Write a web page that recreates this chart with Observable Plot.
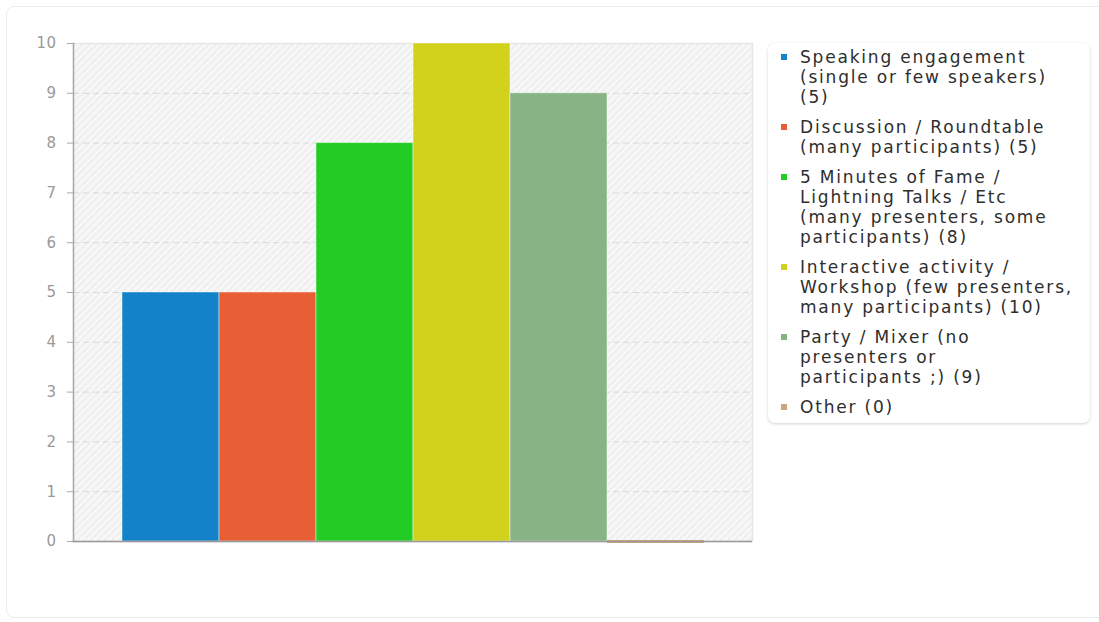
<!DOCTYPE html>
<html>
<head>
<meta charset="utf-8">
<script src="https://cdn.jsdelivr.net/npm/d3@7"></script>
<script src="https://cdn.jsdelivr.net/npm/@observablehq/plot@0.6"></script>
<style>
  html, body { margin: 0; padding: 0; background: #fff; }
  body { width: 1099px; height: 622px; position: relative; overflow: hidden; font-family: "DejaVu Sans", sans-serif; }
  #card { position: absolute; left: 6px; top: 6px; width: 1110px; height: 612px; border: 1.5px solid #ececec; border-radius: 8px; box-sizing: border-box; }
  #chart { position: absolute; left: 0; top: 0; }
  #chart svg text { font-size: 15px !important; letter-spacing: 0.5px; font-family: "DejaVu Sans", sans-serif; }
  #legend { position: absolute; left: 768px; top: 43px; width: 322px; height: 380px; box-sizing: border-box;
            background: #fff; border-radius: 7px; box-shadow: 0 1px 3px rgba(0,0,0,0.18); padding: 4px 0 0 13px; }
  .item { display: flex; align-items: flex-start; margin-bottom: 10px; }
  .sw { width: 6px; height: 6px; margin-top: 7px; margin-right: 13px; flex: none; }
  .lab { font-size: 17px; line-height: 20px; color: #2e2e2e; letter-spacing: 1.8px; white-space: nowrap; }
</style>
</head>
<body>
<div id="card"></div>
<div id="chart"></div>
<div id="legend"></div>
<script>
const categories = [
  "Speaking engagement (single or few speakers)",
  "Discussion / Roundtable (many participants)",
  "5 Minutes of Fame / Lightning Talks / Etc (many presenters, some participants)",
  "Interactive activity / Workshop (few presenters, many participants)",
  "Party / Mixer (no presenters or participants ;)",
  "Other"
];
const values = [5, 5, 8, 10, 9, 0];
const colors = ["#1482c8", "#e85e35", "#22cc22", "#d2d21c", "#88b384", "#c9a67c"];
const yTicks = [0, 1, 2, 3, 4, 5, 6, 7, 8, 9, 10];
// legend labels as wrapped in the reference
const legendLines = [
  ["Speaking engagement", "(single or few speakers)", "(5)"],
  ["Discussion / Roundtable", "(many participants) (5)"],
  ["5 Minutes of Fame /", "Lightning Talks / Etc", "(many presenters, some", "participants) (8)"],
  ["Interactive activity /", "Workshop (few presenters,", "many participants) (10)"],
  ["Party / Mixer (no", "presenters or", "participants ;) (9)"],
  ["Other (0)"]
];

const data = categories.map((c, i) => ({category: c, value: values[i]}));

const plot = Plot.plot({
  width: 760,
  height: 580,
  marginTop: 43,
  marginBottom: 39,
  marginLeft: 73,
  marginRight: 8,
  style: {fontFamily: "DejaVu Sans, sans-serif", fontSize: "15px", color: "#999", background: "transparent"},
  x: {type: "band", domain: categories, range: [122, 704], padding: 0, axis: null},
  y: {domain: [0, 10], ticks: yTicks, tickSize: 6, tickPadding: 11, label: null},
  color: {domain: categories, range: colors},
  marks: [
    Plot.frame({fill: "url(#hatch)", stroke: "#e6e6e6", strokeWidth: 1.5}),
    Plot.gridY(yTicks.filter(t => t > 0 && t < 10), {stroke: "#d8d8d8", strokeOpacity: 1, strokeDasharray: "6,4"}),
    Plot.barY(data, {x: "category", y: "value", fill: "category", stroke: "#ffffff", strokeOpacity: 0.45, strokeWidth: 1}),
    Plot.tickY(data.filter(d => d.value === 0), {x: "category", y: "value", stroke: "category", strokeWidth: 3}),
    Plot.frame({anchor: "left", stroke: "#aaa", strokeWidth: 1.5}),
    Plot.ruleY([0], {stroke: "#999", strokeWidth: 1.5}),
    Plot.axisY({ticks: yTicks, tickSize: 6, tickPadding: 11, stroke: "#aaa", fill: "#999", label: null})
  ]
});

// hatch pattern definition ("/" diagonal lines)
const ns = "http://www.w3.org/2000/svg";
const defs = document.createElementNS(ns, "defs");
defs.innerHTML = `<pattern id="hatch" patternUnits="userSpaceOnUse" width="7" height="7">
  <rect width="7" height="7" fill="#f8f8f8"></rect>
  <path d="M0,7 L7,0 M-1,1 L1,-1 M6,8 L8,6" stroke="#ececec" stroke-width="1.6"></path>
</pattern>`;
plot.insertBefore(defs, plot.firstChild);
document.getElementById("chart").appendChild(plot);

const legend = document.getElementById("legend");
categories.forEach((c, i) => {
  const item = document.createElement("div");
  item.className = "item";
  const sw = document.createElement("div");
  sw.className = "sw";
  sw.style.background = colors[i];
  const lab = document.createElement("div");
  lab.className = "lab";
  legendLines[i].forEach((line, j) => {
    if (j > 0) lab.appendChild(document.createElement("br"));
    lab.appendChild(document.createTextNode(line));
  });
  item.appendChild(sw);
  item.appendChild(lab);
  legend.appendChild(item);
});
</script>
</body>
</html>
